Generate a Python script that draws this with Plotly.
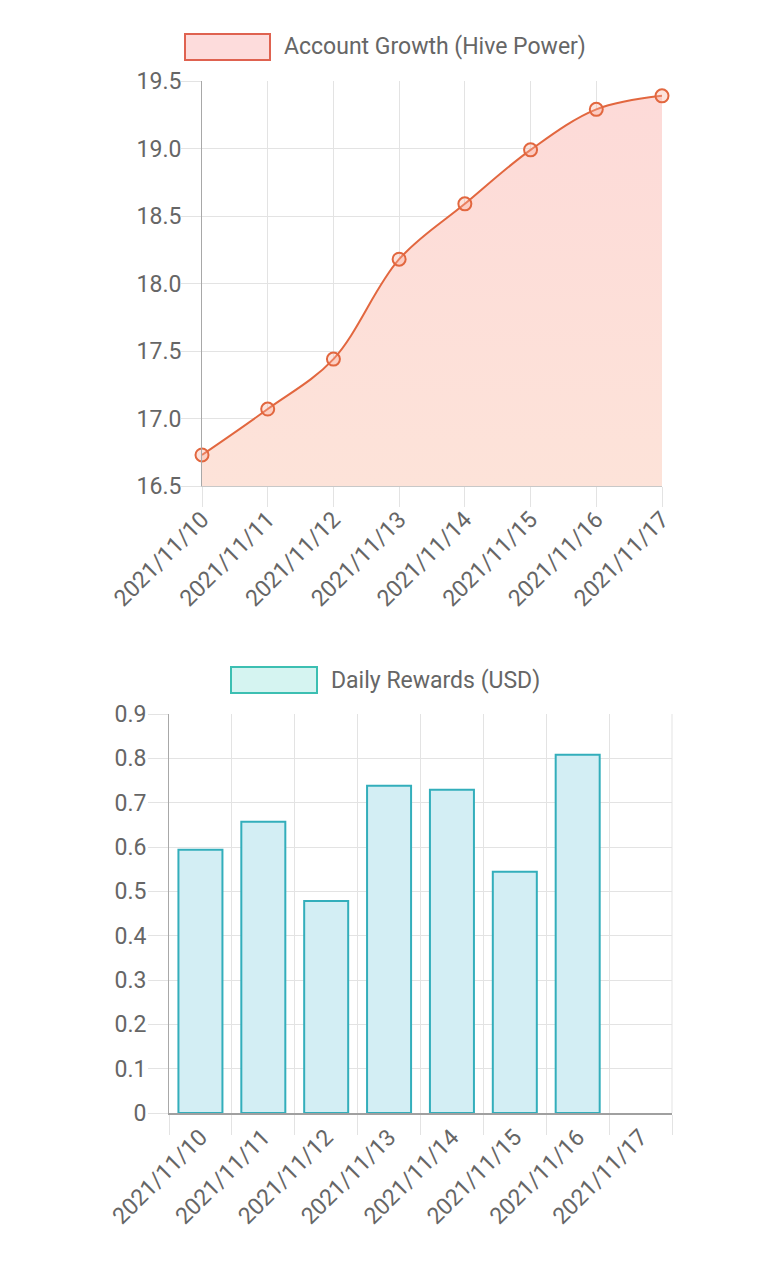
import plotly.graph_objects as go

dates = ["2021/11/10", "2021/11/11", "2021/11/12", "2021/11/13",
         "2021/11/14", "2021/11/15", "2021/11/16", "2021/11/17"]
hive_power = [16.73, 17.07, 17.44, 18.18, 18.59, 18.99, 19.29, 19.39]
daily_rewards = [0.594, 0.657, 0.478, 0.738, 0.729, 0.544, 0.808, None]

series1_name = "Account Growth (Hive Power)"
series2_name = "Daily Rewards (USD)"

W, H = 768, 1274
FONT = "Roboto"
TXT = "#666666"
GRID = "#e3e3e3"
FS = 23


def px_x(v):
    return v / W


def px_y(v):
    return 1 - v / H


fig = go.Figure()

fig.add_trace(go.Scatter(
    x=dates, y=hive_power, xaxis="x", yaxis="y",
    mode="lines+markers",
    line=dict(color="#e2673f", width=2, shape="spline", smoothing=1.0),
    marker=dict(size=13, color="rgba(250,175,155,0.35)",
                line=dict(color="#e2673f", width=2)),
    fill="tozeroy",
    fillgradient=dict(type="vertical", start=16.5, stop=19.5,
                      colorscale=[[0, "#fde3d9"], [1, "#fddad8"]]),
    showlegend=False, hoverinfo="x+y", cliponaxis=False,
))

fig.add_trace(go.Bar(
    x=dates, y=daily_rewards, xaxis="x2", yaxis="y2",
    width=0.7,
    marker=dict(color="#d3eef4", line=dict(color="#33aebb", width=2)),
    showlegend=False,
))

axis_font = dict(family=FONT, size=FS, color=TXT)

common = dict(
    showgrid=True, gridcolor=GRID, gridwidth=1,
    ticks="outside", ticklen=20, tickcolor=GRID, tickwidth=1,
    tickfont=axis_font, zeroline=False, fixedrange=True, automargin=False,
)

fig.update_layout(
    width=W, height=H,
    margin=dict(l=0, r=0, t=0, b=0, autoexpand=False),
    paper_bgcolor="white", plot_bgcolor="white",
    font=dict(family=FONT, size=FS, color=TXT),
    xaxis=dict(
        domain=[px_x(202), px_x(662)], anchor="y",
        type="category", range=[0, 7], tickangle=-45,
        ticklabelstandoff=-10,
        showline=True, linecolor="#c8c8c8", linewidth=1, **common,
    ),
    yaxis=dict(
        domain=[px_y(486), px_y(81)], anchor="x",
        range=[16.5, 19.5], dtick=0.5, tick0=16.5, tickformat=".1f",
        ticklabelstandoff=-5,
        showline=True, linecolor="#a8a8a8", linewidth=1, **common,
    ),
    xaxis2=dict(
        domain=[px_x(169), px_x(672)], anchor="y2",
        type="category", range=[-0.5, 7.5], tickson="boundaries",
        tickangle=-45,
        showline=True, linecolor="#a0a0a0", linewidth=1.5, **common,
    ),
    yaxis2=dict(
        domain=[px_y(1113), px_y(714)], anchor="x2",
        range=[0, 0.9], dtick=0.1, tick0=0,
        ticklabelstandoff=-3,
        showline=True, linecolor="#a8a8a8", linewidth=1, **common,
    ),
    shapes=[
        dict(type="rect", xref="paper", yref="paper",
             x0=px_x(185), x1=px_x(270), y0=px_y(60), y1=px_y(34),
             fillcolor="#fddcdc", line=dict(color="#df6250", width=2)),
        dict(type="rect", xref="paper", yref="paper",
             x0=px_x(231), x1=px_x(317), y0=px_y(693), y1=px_y(667),
             fillcolor="#d5f4f1", line=dict(color="#3cbfb2", width=2)),
        dict(type="line", xref="paper", yref="paper",
             x0=px_x(672), x1=px_x(672), y0=px_y(1113), y1=px_y(714),
             line=dict(color=GRID, width=1)),
    ],
    annotations=[
        dict(text=series1_name, xref="paper", yref="paper",
             x=px_x(282), y=px_y(47), xanchor="left", yanchor="middle",
             showarrow=False, font=dict(family=FONT, size=FS, color=TXT)),
        dict(text=series2_name, xref="paper", yref="paper",
             x=px_x(329), y=px_y(680), xanchor="left", yanchor="middle",
             showarrow=False, font=dict(family=FONT, size=FS, color=TXT)),
    ],
)

fig.write_html("out.html")
